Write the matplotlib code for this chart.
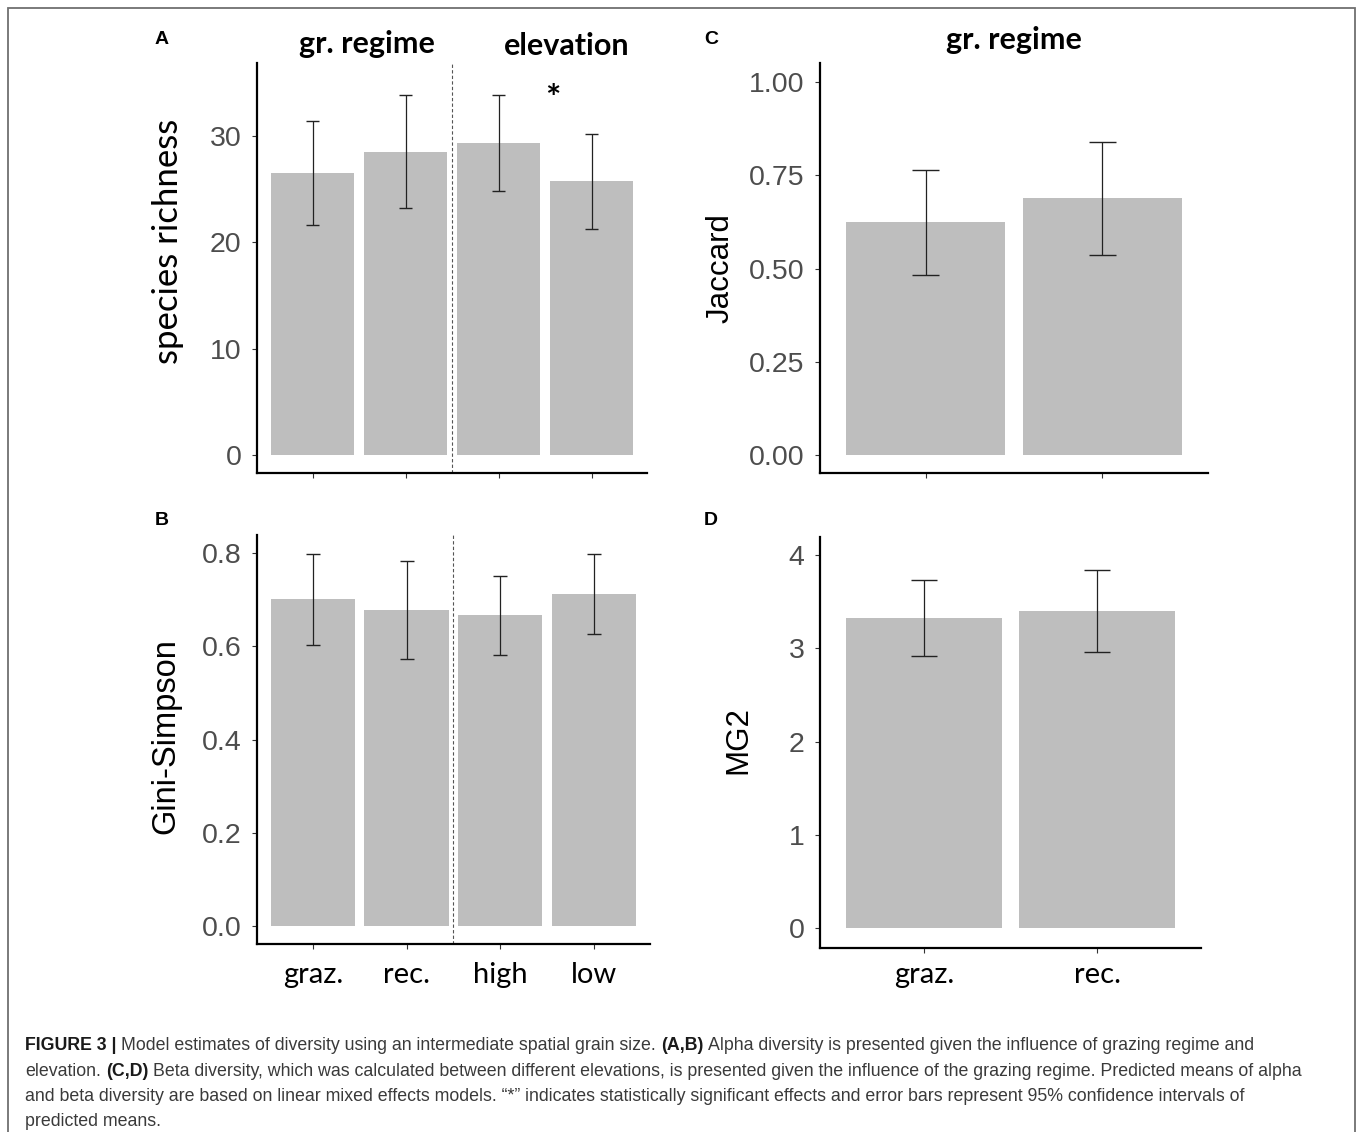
"""Model estimates of diversity (Figure 3): four bar panels with 95% CI error bars."""

import matplotlib

matplotlib.use("Agg")
import matplotlib.pyplot as plt
from matplotlib.patches import Rectangle
from matplotlib.transforms import blended_transform_factory

FIG_W, FIG_H = 1358, 1132

# panel A / B: grazing regime + elevation
alpha_labels = ["graz.", "rec.", "high", "low"]
rich_mean = [26.5, 28.5, 29.3, 25.7]
rich_lo = [21.6, 23.2, 24.8, 21.2]
rich_hi = [31.4, 33.8, 33.8, 30.2]

gini_mean = [0.701, 0.678, 0.667, 0.712]
gini_lo = [0.603, 0.573, 0.582, 0.627]
gini_hi = [0.799, 0.784, 0.752, 0.799]

# panel C / D: grazing regime only
beta_labels = ["graz.", "rec."]
jac_mean = [0.625, 0.689]
jac_lo = [0.484, 0.537]
jac_hi = [0.766, 0.841]

mg2_mean = [3.32, 3.40]
mg2_lo = [2.92, 2.96]
mg2_hi = [3.73, 3.84]

rich_ticks = [0, 10, 20, 30]
gini_ticks = [0.0, 0.2, 0.4, 0.6, 0.8]
jac_ticks = [0.0, 0.25, 0.5, 0.75, 1.0]
mg2_ticks = [0, 1, 2, 3, 4]

CAPTION = [
    [("FIGURE 3 |", True),
     ("Model estimates of diversity using an intermediate spatial grain size.", False),
     ("(A,B)", True),
     ("Alpha diversity is presented given the influence of grazing regime and", False)],
    [("elevation.", False),
     ("(C,D)", True),
     ("Beta diversity, which was calculated between different elevations, is presented "
      "given the influence of the grazing regime. Predicted means of alpha", False)],
    [("and beta diversity are based on linear mixed effects models. \u201c*\u201d indicates "
      "statistically significant effects and error bars represent 95% confidence intervals of",
      False)],
    [("predicted means.", False)],
]

BAR_COLOR = "#bebebe"
TICK_COLOR = "#4d4d4d"
CALIBRI = "Lato"
ARIAL = "Liberation Sans"

def fx(px):
    return px / FIG_W

def fy(py):
    return 1 - py / FIG_H

def add_panel(fig, box, ylim, ticks, tick_fmt):
    left, top, right, bottom = box
    ax = fig.add_axes([fx(left), fy(bottom), fx(right) - fx(left), fy(top) - fy(bottom)])
    ax.set_ylim(*ylim)
    ax.set_yticks(ticks)
    ax.set_yticklabels([tick_fmt.format(t) for t in ticks])
    for side in ("top", "right"):
        ax.spines[side].set_visible(False)
    for side in ("left", "bottom"):
        ax.spines[side].set_linewidth(1.6)
        ax.spines[side].set_color("black")
    ax.tick_params(axis="both", direction="out", length=3.6, width=0.8, color="#333333")
    ax.tick_params(axis="y", labelsize=20.5, labelcolor=TICK_COLOR, pad=7.5)
    for lab in ax.get_yticklabels():
        lab.set_fontfamily(ARIAL)
    return ax

def draw_bars(ax, labels, mean, lo, hi, show_labels):
    pos = list(range(1, len(labels) + 1))
    ax.bar(pos, mean, width=0.9, color=BAR_COLOR, zorder=1)
    ax.vlines(pos, lo, hi, color="#222222", lw=0.9, zorder=3)
    for p, a, b in zip(pos, lo, hi):
        ax.hlines([a, b], p - 0.075, p + 0.075, color="#222222", lw=1.0, zorder=3)
    ax.set_xlim(0.4, len(labels) + 0.6)
    ax.set_xticks(pos)
    ax.set_xticklabels([])
    if show_labels:
        trans = blended_transform_factory(ax.transData, ax.figure.transFigure)
        for p, lab in zip(pos, labels):
            ax.text(p, fy(983), lab, transform=trans, ha="center", va="baseline",
                    fontsize=21, family=CALIBRI, color="black")

def draw_caption(fig, x0, y0, line_gap, target_right):
    renderer = fig.canvas.get_renderer()

    def width(s, bold, size):
        t = fig.text(0, 0, s, fontsize=size, family=ARIAL,
                     fontweight="bold" if bold else "normal")
        w = t.get_window_extent(renderer).width
        t.remove()
        return w

    def line_width(runs, size):
        sp = width("x x", False, size) - width("xx", False, size)
        return sum(width(s, b, size) for s, b in runs) + sp * (len(runs) - 1)

    size = 12.0
    size *= (target_right - x0) / line_width(CAPTION[0], size)
    sp = width("x x", False, size) - width("xx", False, size)
    for i, runs in enumerate(CAPTION):
        x = x0
        y = y0 + i * line_gap
        for s, bold in runs:
            t = fig.text(fx(x), fy(y), s, fontsize=size, family=ARIAL,
                         fontweight="bold" if bold else "normal",
                         color="#1a1a1a" if bold else "#3a3a3a",
                         ha="left", va="baseline")
            x += t.get_window_extent(renderer).width + sp

def main():
    fig = plt.figure(figsize=(FIG_W / 100, FIG_H / 100), dpi=100)

    ax_a = add_panel(fig, (256.7, 63.3, 647.3, 473.3), (-1.72, 36.8), rich_ticks, "{:g}")
    draw_bars(ax_a, alpha_labels, rich_mean, rich_lo, rich_hi, show_labels=False)
    ax_a.axvline(2.5, color="#555555", lw=0.8, ls=(0, (3, 2)), zorder=2)
    ax_a.text(3.58, 33.4, "*", ha="center", va="center", fontsize=26,
              family=CALIBRI, fontweight="bold")

    ax_b = add_panel(fig, (256.7, 535, 650, 944.3), (-0.0393, 0.839), gini_ticks, "{:.1f}")
    draw_bars(ax_b, alpha_labels, gini_mean, gini_lo, gini_hi, show_labels=True)
    ax_b.axvline(2.5, color="#555555", lw=0.8, ls=(0, (3, 2)), zorder=2)

    ax_c = add_panel(fig, (819.8, 63.3, 1208.2, 473.3), (-0.049, 1.051), jac_ticks, "{:.2f}")
    draw_bars(ax_c, beta_labels, jac_mean, jac_lo, jac_hi, show_labels=False)

    ax_d = add_panel(fig, (819.8, 536.7, 1201.2, 948.3), (-0.214, 4.196), mg2_ticks, "{:g}")
    draw_bars(ax_d, beta_labels, mg2_mean, mg2_lo, mg2_hi, show_labels=True)

    # y axis titles
    fig.text(fx(168), fy(241.7), "species richness", rotation=90, ha="center", va="center",
             fontsize=25, family=CALIBRI)
    fig.text(fx(166), fy(736), "Gini-Simpson", rotation=90, ha="center", va="center",
             fontsize=23.5, family=ARIAL)
    fig.text(fx(721), fy(268), "Jaccard", rotation=90, ha="center", va="center",
             fontsize=22.5, family=ARIAL)
    fig.text(fx(738.5), fy(740), "MG2", rotation=90, ha="center", va="center",
             fontsize=22.5, family=ARIAL)

    # group headers and panel letters
    for x, y, s in [(366.7, 53.3, "gr. regime"), (567, 55, "elevation"),
                    (1014, 49.3, "gr. regime")]:
        fig.text(fx(x), fy(y), s, ha="center", va="baseline", fontsize=22,
                 family=CALIBRI, fontweight="bold")
    for x, y, s in [(162, 44.3, "A"), (162, 525, "B"), (711, 43.5, "C"), (711, 525, "D")]:
        fig.text(fx(x), fy(y), s, ha="center", va="baseline", fontsize=14,
                 family=ARIAL, fontweight="bold")

    fig.patches.append(Rectangle((fx(8), -0.1), fx(1355) - fx(8), fy(8) + 0.1,
                                 transform=fig.transFigure, fill=False,
                                 edgecolor="#707070", lw=1.3, clip_on=False))

    draw_caption(fig, 25, 1050, 25.5, 1263)

    fig.savefig("out.png", dpi=100)
    plt.close(fig)

if __name__ == "__main__":
    main()
